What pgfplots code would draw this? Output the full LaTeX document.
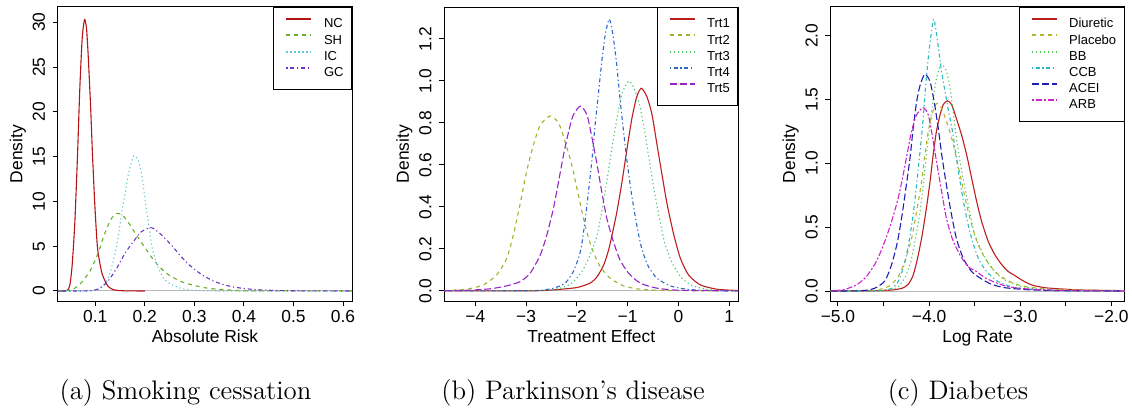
\documentclass[border=0pt]{standalone}
\usepackage{fontspec}
\usepackage{pgfplots}
\pgfplotsset{compat=1.18}
\newfontfamily\lsans{Liberation Sans}
\newcommand\tickfont{\lsans\fontsize{8.7}{10}\selectfont}
\newcommand\legfont{\lsans\fontsize{6.5}{8}\selectfont}
\definecolor{cNC}{RGB}{178,20,24}
\definecolor{cSH}{RGB}{104,176,42}
\definecolor{cIC}{RGB}{96,200,208}
\definecolor{cGC}{RGB}{108,52,200}
\definecolor{cT1}{RGB}{188,30,32}
\definecolor{cT2}{RGB}{160,178,40}
\definecolor{cT3}{RGB}{72,196,112}
\definecolor{cT4}{RGB}{44,104,200}
\definecolor{cT5}{RGB}{150,36,200}
\definecolor{cDi}{RGB}{188,30,32}
\definecolor{cPl}{RGB}{182,180,40}
\definecolor{cBB}{RGB}{84,200,84}
\definecolor{cCC}{RGB}{40,184,192}
\definecolor{cAC}{RGB}{30,30,176}
\definecolor{cAR}{RGB}{204,36,204}
\tikzset{
  rsolid/.style={solid},
  rdashed/.style={dash pattern=on 2pt off 2pt},
  rdotted/.style={dash pattern=on 0.6pt off 1.4pt},
  rdotdash/.style={dash pattern=on 0.6pt off 1.4pt on 2pt off 1.4pt},
  rlongdash/.style={dash pattern=on 3.5pt off 1.5pt},
  rtwodash/.style={dash pattern=on 1pt off 1pt on 3pt off 1pt},
}
\pgfplotsset{
 rpanel/.style={
  scale only axis, width=147pt, height=147pt,
  axis line style={black, line width=0.5pt},
  tick align=outside, tick pos=left,
  major tick length=2.7pt,
  tick style={black, line width=0.5pt},
  scaled ticks=false,
  xticklabel style={font=\tickfont, anchor=base, yshift=-7.9pt},
  yticklabel style={font=\tickfont, xshift=-6.8pt, rotate=90, anchor=center},
  every axis x label/.style={at={(axis description cs:0.5,0)}, yshift=-20.6pt, anchor=base, font=\tickfont},
  every axis y label/.style={at={(axis description cs:0,0.5)}, xshift=-20pt, rotate=90, anchor=center, font=\tickfont},
  ylabel={Density},
  legend cell align=left,
  legend style={at={(1,1)}, anchor=north east, draw=black, line width=0.5pt, fill=white,
    font=\legfont, inner xsep=4pt, inner ysep=4.3pt, row sep=0pt, column sep=0pt,
    nodes={inner xsep=0pt, inner ysep=1pt, text height=4.9pt, text depth=1.2pt}},
  legend image code/.code={\draw[##1, line width=1pt] (2pt,2.5pt) -- (14.5pt,2.5pt); \path (0pt,0pt) (20.5pt,0pt);},
  every axis plot/.append style={line width=0.55pt, smooth, tension=0.4},
 }
}
\begin{document}
\begin{tikzpicture}
\path[use as bounding box] (0,0) rectangle (566pt,204pt);
% ---------------- (a) ----------------
\begin{axis}[rpanel, at={(29pt,53.5pt)}, anchor=south west,
  xmin=0.025, xmax=0.618, ymin=-1.12, ymax=31.7,
  xtick={0.1,0.2,0.3,0.4,0.5,0.6}, xticklabels={0.1,0.2,0.3,0.4,0.5,0.6},
  ytick={0,5,10,15,20,25,30}, yticklabels={0,5,10,15,20,25,30},
  xlabel={Absolute Risk}]
\addplot[draw=gray!55, line width=0.5pt, forget plot] coordinates {(0.025,0) (0.618,0)};
\addplot[draw=cNC, rsolid] coordinates {(0.025,0) (0.038,0) (0.044,0.07) (0.049,0.67) (0.0536,2.9) (0.059,7.7) (0.0644,15.2) (0.069,22.6) (0.0738,28.2) (0.0785,30.3) (0.0825,29.3) (0.0859,26.3) (0.0906,20.8) (0.0946,15.2) (0.0993,9.6) (0.1047,4.8) (0.1128,2.16) (0.120,1.1) (0.1262,0.5) (0.135,0.18) (0.145,0.06) (0.160,0.015) (0.180,0.003) (0.200,0)};
\addlegendentry{NC}
\addplot[draw=cSH, rdashed] coordinates {(0.025,0) (0.04,0.03) (0.05,0.1) (0.06,0.35) (0.069,0.74) (0.079,1.4) (0.089,2.16) (0.099,3.3) (0.107,4.4) (0.116,5.9) (0.125,7.2) (0.133,8.1) (0.143,8.67) (0.156,8.4) (0.170,7.4) (0.183,6.25) (0.199,4.95) (0.220,3.3) (0.244,1.96) (0.277,0.97) (0.328,0.3) (0.395,0.04) (0.45,0.01) (0.618,0)};
\addlegendentry{SH}
\addplot[draw=cIC, rdotted] coordinates {(0.025,0) (0.08,0) (0.097,0.04) (0.107,0.2) (0.121,0.86) (0.131,2.2) (0.141,4.4) (0.148,6.6) (0.154,8.9) (0.161,11.1) (0.168,13.3) (0.178,15.1) (0.188,14.4) (0.195,12.6) (0.201,10) (0.208,7.4) (0.215,4.8) (0.225,2.9) (0.238,1.4) (0.255,0.67) (0.278,0.22) (0.306,0.04) (0.35,0) (0.618,0)};
\addlegendentry{IC}
\addplot[draw=cGC, rdotdash] coordinates {(0.025,0) (0.07,0) (0.093,0.04) (0.109,0.3) (0.126,1.1) (0.143,2.5) (0.160,4.2) (0.177,5.5) (0.193,6.6) (0.2136,7.07) (0.234,6.25) (0.254,5.1) (0.274,3.8) (0.294,2.7) (0.314,1.86) (0.341,1.04) (0.375,0.48) (0.415,0.19) (0.46,0.06) (0.52,0.015) (0.618,0)};
\addlegendentry{GC}
\end{axis}
% ---------------- (b) ----------------
\begin{axis}[rpanel, at={(222.15pt,53.5pt)}, anchor=south west,
  xmin=-4.61, xmax=1.18, ymin=-0.048, ymax=1.352,
  xtick={-4,-3,-2,-1,0,1}, xticklabels={−4,−3,−2,−1,0,1},
  ytick={0,0.2,0.4,0.6,0.8,1.0,1.2}, yticklabels={0.0,0.2,0.4,0.6,0.8,1.0,1.2},
  xlabel={Treatment Effect}]
\addplot[draw=gray!55, line width=0.5pt, forget plot] coordinates {(-4.61,0) (1.18,0)};
\addplot[draw=cT1, rsolid] coordinates {(-4.61,0) (-2.8,0.001) (-2.46,0.005) (-2.0,0.016) (-1.74,0.037) (-1.6,0.068) (-1.47,0.124) (-1.38,0.19) (-1.31,0.262) (-1.21,0.378) (-1.11,0.52) (-1.01,0.68) (-0.915,0.822) (-0.82,0.925) (-0.73,0.965) (-0.62,0.925) (-0.52,0.84) (-0.42,0.695) (-0.32,0.55) (-0.22,0.41) (-0.09,0.267) (0.04,0.155) (0.2,0.076) (0.43,0.029) (0.76,0.008) (1.18,0.002)};
\addlegendentry{Trt1}
\addplot[draw=cT2, rdashed] coordinates {(-4.61,0.002) (-4.17,0.008) (-3.84,0.029) (-3.58,0.076) (-3.38,0.155) (-3.25,0.267) (-3.12,0.41) (-2.99,0.568) (-2.855,0.695) (-2.72,0.79) (-2.525,0.833) (-2.36,0.8) (-2.23,0.71) (-2.1,0.6) (-1.97,0.457) (-1.84,0.314) (-1.7,0.2) (-1.54,0.116) (-1.34,0.06) (-1.08,0.024) (-0.75,0.008) (-0.22,0.002) (1.18,0)};
\addlegendentry{Trt2}
\addplot[draw=cT3, rdotted] coordinates {(-4.61,0) (-2.9,0.001) (-2.59,0.003) (-2.33,0.013) (-2.1,0.037) (-1.9,0.092) (-1.74,0.171) (-1.6,0.267) (-1.51,0.378) (-1.41,0.52) (-1.31,0.68) (-1.21,0.82) (-1.11,0.94) (-0.97,1.0) (-0.85,0.95) (-0.75,0.87) (-0.65,0.74) (-0.56,0.6) (-0.46,0.457) (-0.36,0.33) (-0.26,0.22) (-0.12,0.132) (0.04,0.068) (0.24,0.029) (0.5,0.01) (0.83,0.002) (1.18,0)};
\addlegendentry{Trt3}
\addplot[draw=cT4, rdotdash] coordinates {(-4.61,0) (-3.0,0.001) (-2.72,0.003) (-2.46,0.013) (-2.23,0.037) (-2.07,0.092) (-1.93,0.187) (-1.84,0.33) (-1.77,0.473) (-1.7,0.63) (-1.64,0.79) (-1.57,0.95) (-1.51,1.09) (-1.44,1.22) (-1.36,1.295) (-1.29,1.22) (-1.22,1.09) (-1.15,0.917) (-1.08,0.76) (-1.01,0.616) (-0.92,0.457) (-0.82,0.314) (-0.72,0.2) (-0.59,0.116) (-0.42,0.06) (-0.16,0.024) (0.17,0.008) (0.57,0.002) (1.18,0)};
\addlegendentry{Trt4}
\addplot[draw=cT5, rlongdash] coordinates {(-4.61,0.001) (-4.17,0.003) (-3.71,0.01) (-3.38,0.024) (-3.12,0.044) (-2.92,0.084) (-2.72,0.171) (-2.59,0.267) (-2.46,0.394) (-2.36,0.52) (-2.26,0.65) (-2.16,0.76) (-2.07,0.838) (-1.93,0.88) (-1.8,0.838) (-1.7,0.727) (-1.6,0.6) (-1.51,0.473) (-1.41,0.346) (-1.28,0.235) (-1.15,0.148) (-0.98,0.084) (-0.75,0.037) (-0.42,0.013) (0.04,0.003) (1.18,0)};
\addlegendentry{Trt5}
\end{axis}
% ---------------- (c) ----------------
\begin{axis}[rpanel, at={(415.35pt,53.5pt)}, anchor=south west,
  xmin=-5.08, xmax=-1.854, ymin=-0.078, ymax=2.225,
  xtick={-5,-4.5,-4,-3.5,-3,-2.5,-2}, xticklabels={−5.0,,−4.0,,−3.0,,−2.0},
  ytick={0,0.5,1,1.5,2}, yticklabels={0.0,0.5,1.0,1.5,2.0},
  xlabel={Log Rate}]
\addplot[draw=gray!55, line width=0.5pt, forget plot] coordinates {(-5.08,0) (-1.854,0)};
\addplot[draw=cDi, rsolid] coordinates {(-5.08,0) (-4.56,0.003) (-4.41,0.008) (-4.3,0.021) (-4.23,0.052) (-4.175,0.125) (-4.127,0.256) (-4.076,0.44) (-4.03,0.648) (-3.99,0.857) (-3.955,1.07) (-3.92,1.25) (-3.88,1.38) (-3.845,1.46) (-3.80,1.49) (-3.753,1.46) (-3.7,1.35) (-3.643,1.22) (-3.588,1.066) (-3.533,0.883) (-3.478,0.7) (-3.423,0.543) (-3.35,0.387) (-3.277,0.282) (-3.2,0.204) (-3.13,0.152) (-3.056,0.12) (-2.983,0.086) (-2.873,0.047) (-2.73,0.026) (-2.54,0.016) (-2.32,0.008) (-1.854,0.003)};
\addlegendentry{Diuretic}
\addplot[draw=cPl, rdashed] coordinates {(-5.08,0) (-4.74,0.003) (-4.56,0.01) (-4.43,0.042) (-4.34,0.112) (-4.267,0.23) (-4.193,0.41) (-4.138,0.62) (-4.083,0.857) (-4.047,1.066) (-4.01,1.25) (-3.97,1.38) (-3.918,1.47) (-3.863,1.43) (-3.81,1.33) (-3.753,1.2) (-3.7,1.04) (-3.643,0.857) (-3.588,0.674) (-3.533,0.517) (-3.46,0.36) (-3.387,0.256) (-3.277,0.152) (-3.167,0.094) (-3.056,0.057) (-2.91,0.031) (-2.69,0.016) (-2.4,0.008) (-1.854,0.002)};
\addlegendentry{Placebo}
\addplot[draw=cBB, rdotted] coordinates {(-5.08,0) (-4.6,0.002) (-4.45,0.008) (-4.34,0.034) (-4.26,0.112) (-4.2,0.23) (-4.15,0.41) (-4.1,0.62) (-4.065,0.83) (-4.03,1.066) (-3.99,1.3) (-3.955,1.51) (-3.918,1.667) (-3.87,1.78) (-3.81,1.72) (-3.77,1.59) (-3.735,1.4) (-3.7,1.2) (-3.654,0.987) (-3.6,0.78) (-3.55,0.6) (-3.5,0.44) (-3.42,0.31) (-3.35,0.217) (-3.26,0.138) (-3.167,0.086) (-3.02,0.042) (-2.84,0.018) (-2.54,0.005) (-1.854,0)};
\addlegendentry{BB}
\addplot[draw=cCC, rdotdash] coordinates {(-5.08,0) (-4.7,0.001) (-4.52,0.005) (-4.41,0.021) (-4.34,0.073) (-4.274,0.204) (-4.22,0.387) (-4.175,0.6) (-4.138,0.83) (-4.1,1.09) (-4.065,1.35) (-4.04,1.59) (-4.01,1.82) (-3.98,2.0) (-3.948,2.13) (-3.91,1.97) (-3.87,1.75) (-3.83,1.58) (-3.79,1.42) (-3.746,1.26) (-3.7,1.04) (-3.643,0.78) (-3.588,0.57) (-3.533,0.41) (-3.46,0.256) (-3.368,0.152) (-3.24,0.073) (-3.056,0.026) (-2.76,0.008) (-2.4,0.002) (-1.854,0)};
\addlegendentry{CCB}
\addplot[draw=cAC, rlongdash] coordinates {(-5.08,0) (-4.74,0.003) (-4.6,0.021) (-4.487,0.078) (-4.413,0.204) (-4.347,0.387) (-4.296,0.6) (-4.25,0.83) (-4.21,1.04) (-4.175,1.275) (-4.138,1.48) (-4.1,1.61) (-4.047,1.70) (-3.99,1.64) (-3.944,1.48) (-3.9,1.275) (-3.856,1.04) (-3.81,0.83) (-3.76,0.62) (-3.7,0.41) (-3.625,0.256) (-3.533,0.152) (-3.423,0.094) (-3.313,0.052) (-3.167,0.026) (-2.91,0.01) (-2.54,0.003) (-1.854,0)};
\addlegendentry{ACEI}
\addplot[draw=cAR, rtwodash] coordinates {(-5.08,0.001) (-5.04,0.003) (-4.927,0.013) (-4.8,0.047) (-4.69,0.112) (-4.58,0.23) (-4.487,0.387) (-4.413,0.543) (-4.34,0.726) (-4.285,0.91) (-4.237,1.09) (-4.193,1.25) (-4.138,1.38) (-4.065,1.437) (-4.01,1.38) (-3.966,1.22) (-3.918,1.01) (-3.863,0.78) (-3.81,0.57) (-3.746,0.41) (-3.66,0.28) (-3.57,0.19) (-3.478,0.152) (-3.387,0.104) (-3.277,0.068) (-3.13,0.034) (-2.91,0.016) (-2.54,0.005) (-1.854,0)};
\addlegendentry{ARB}
\end{axis}
% ---------------- captions ----------------
\node[font=\fontsize{13.4}{15}\selectfont, anchor=base] at (92.75pt,4.4pt) {(a) Smoking cessation};
\node[font=\fontsize{13.4}{15}\selectfont, anchor=base] at (286.5pt,4.4pt) {(b) Parkinson's disease};
\node[font=\fontsize{13.4}{15}\selectfont, anchor=base] at (479pt,4.4pt) {(c) Diabetes};
\end{tikzpicture}
\end{document}
